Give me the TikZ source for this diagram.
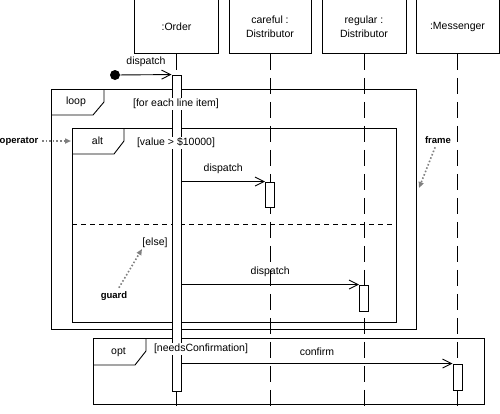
\documentclass[tikz,border=0pt]{standalone}
\usepackage{fontspec}
\setmainfont{Liberation Sans}
\usetikzlibrary{arrows.meta}

\begin{document}
\begin{tikzpicture}[x=1pt,y=-1pt,line width=0.9pt,
  font=\fontsize{10.5}{14}\selectfont,
  >={Straight Barb[length=9pt,width=9pt]},
  head/.style={rectangle,draw,minimum height=54pt,align=center,inner sep=2pt},
  lifeline/.style={dash pattern=on 16pt off 8pt},
  bar/.style={rectangle,draw,fill=white,minimum width=9pt,inner sep=0pt},
  guard/.style={fill=white,inner sep=1pt},
  note/.style={font=\fontsize{9.5}{11}\selectfont\bfseries},
  pointer/.style={gray,dotted,line width=1.6pt,-{Triangle[length=6pt,width=5pt]}},
  msglabel/.style={pos=.5,above=4pt}]
  \useasboundingbox (0,0) rectangle (500,413);
  \coordinate (bottom) at (0,413);

  % Define nodes
  \node (order) [head,minimum width=84pt] at (176.5,26.5) {:Order};
  \node (careful) [head,minimum width=82pt] at (270,26.5) {careful :\\Distributor};
  \node (regular) [head,minimum width=84pt] at (364,26.5) {regular :\\Distributor};
  \node (messenger) [head,minimum width=83pt] at (457.5,26.5) {:Messenger};

  % Frames
  \draw (51,89) rectangle (416,329);
  \draw (51,115) -- (93,115) -- (104,102) -- (104,89);
  \node (looptag) at (76,102) {loop};
  \draw (72,128) rectangle (396,322);
  \draw (72,154) -- (114,154) -- (124,141) -- (124,128);
  \node (alttag) at (97.5,141) {alt};
  \draw [dash pattern=on 5pt off 4pt] (72,224) -- (396,224);
  \draw (93,338) rectangle (484,404);
  \draw (93,365) -- (135,365) -- (146,351) -- (146,338);
  \node (opttag) at (118.5,352) {opt};

  % Lifelines and activations
  \foreach \obj in {order,careful,regular,messenger}
    \draw [lifeline] (\obj.south) -- (\obj.south |- bottom);
  \node (orderbar) [bar,minimum height=316pt] at (176.5,233) {};
  \node (carefulbar) [bar,minimum height=25pt] at (270,194.5) {};
  \node (regularbar) [bar,minimum height=26pt] at (364,298) {};
  \node (messengerbar) [bar,minimum height=26pt] at (457.5,377) {};

  % Guards
  \node (loopguard) [guard] at (176,104) {[for each line item]};
  \node (altguard) [guard] at (176,143) {[value > \$10000]};
  \node (elseguard) at (155,243) {[else]};
  \node (optguard) [guard] at (201,349) {[needsConfirmation]};

  % Draw edges
  \node (start) [circle,fill,inner sep=0pt,minimum size=10pt] at (115,75) {};
  \draw [->] (start) -- node[msglabel] {dispatch} (orderbar.north west);
  \draw [->] (orderbar.east |- carefulbar.north) -- node[msglabel] {dispatch} (carefulbar.north west);
  \draw [->] (orderbar.east |- regularbar.north) -- node[msglabel] {dispatch} (regularbar.north west);
  \draw [->] (orderbar.east |- messengerbar.north) -- node[msglabel] {confirm} (messengerbar.north west);

  % Notes
  \node (operatornote) [note] at (19,141) {operator};
  \coordinate (altleft) at (71,141);
  \draw [pointer] (operatornote) -- (altleft);
  \node (framenote) [note] at (438,140) {frame};
  \coordinate (looptip) at (419,188);
  \draw [pointer] (framenote) -- (looptip);
  \node (guardnote) [note] at (114,296) {guard};
  \coordinate (elsetip) at (142,249);
  \draw [pointer] (guardnote) -- (elsetip);
\end{tikzpicture}
\end{document}
